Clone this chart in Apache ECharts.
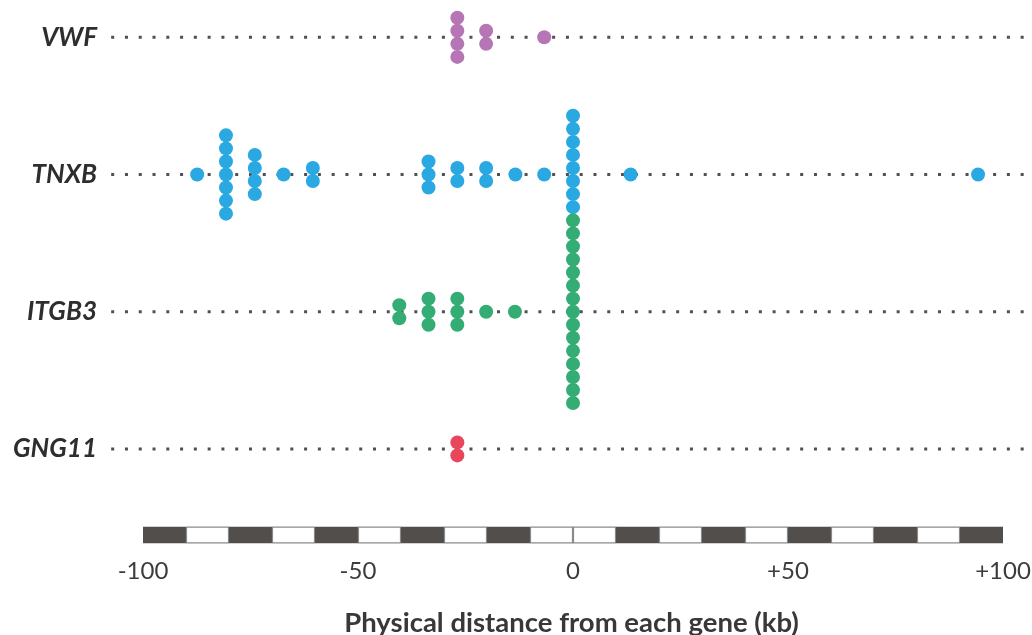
<!DOCTYPE html>
<html>
<head>
<meta charset="utf-8">
<script src="https://cdn.jsdelivr.net/npm/echarts@6/dist/echarts.min.js"></script>
<style>
html,body{margin:0;padding:0;background:#fff;}
#chart{width:1032px;height:635px;}
</style>
</head>
<body>
<div id="chart"></div>
<script>
// ---- data ----
const genes = ['VWF', 'TNXB', 'ITGB3', 'GNG11'];

const vwfPos = [-26.9, -20.2, -6.7];
const vwfCount = [4, 2, 1];

const tnxbPos = [-87.4, -80.7, -74.0, -67.3, -60.5, -33.6, -26.9, -20.2, -13.4, -6.7, 0, 13.4, 94.2];
const tnxbCount = [1, 7, 4, 1, 2, 3, 2, 2, 1, 1, 8, 1, 1];
const tnxbShift = [0, 0, 0, 0, 0, 0, 0, 0, 0, 0, -1, 0, 0]; // stack pushed up to clear ITGB3 stack

const itgb3Pos = [-40.4, -33.6, -26.9, -20.2, -13.5, 0];
const itgb3Count = [2, 3, 3, 1, 1, 15];

const gng11Pos = [-26.9];
const gng11Count = [2];

const xTicks = [-100, -50, 0, 50, 100];
const scaleStart = [-100, -90, -80, -70, -60, -50, -40, -30, -20, -10, 0, 10, 20, 30, 40, 50, 60, 70, 80, 90];
const scaleDark  = [1, 0, 1, 0, 1, 0, 1, 0, 1, 0, 0, 1, 0, 1, 0, 1, 0, 1, 0, 1];

// ---- styles / layout ----
const PX_PER_KB = 4.3;
const ZERO_PX = 573;
const X_MIN = -107.4;
const X_MAX = (1032 - ZERO_PX) / PX_PER_KB;
const GRID_LEFT = ZERO_PX + X_MIN * PX_PER_KB;
const ROW_PX = 137.2;
const ROW_TOP = 37.3;
const DOT_STEP = 13.05 / ROW_PX;   // vertical spacing of stacked dots, in row units
const colors = { VWF: '#b676b6', TNXB: '#2aa8e2', ITGB3: '#33ad74', GNG11: '#e8465b' };
const labelFont = 'Lato, "Open Sans", sans-serif';

function stack(row, pos, count, shift) {
  const out = [];
  pos.forEach((x, i) => {
    const n = count[i];
    const s = shift ? shift[i] : 0;
    for (let k = 0; k < n; k++) {
      out.push([x, row + (k - (n - 1) / 2 + s) * DOT_STEP]);
    }
  });
  return out;
}

const chart = echarts.init(document.getElementById('chart'), null, { renderer: 'canvas' });

const dotLines = genes.map((g, r) => ({
  type: 'line',
  data: [[X_MIN, r], [X_MAX, r]],
  symbol: 'none',
  clip: false,
  silent: true,
  z: 1,
  lineStyle: { color: '#505050', width: 3, type: [3, 10.78], cap: 'butt' }
}));

function dotSeries(name, row, pos, count, shift) {
  return {
    type: 'scatter',
    name: name,
    data: stack(row, pos, count, shift),
    symbol: 'circle',
    symbolSize: 14,
    clip: false,
    z: 3,
    itemStyle: { color: colors[name], opacity: 1 }
  };
}

const option = {
  animation: false,
  backgroundColor: '#ffffff',
  grid: {
    left: GRID_LEFT, right: 0, top: ROW_TOP, bottom: 635 - (ROW_TOP + 3 * ROW_PX),
    containLabel: false,
    outerBoundsMode: 'none'
  },
  xAxis: {
    type: 'value',
    min: X_MIN, max: X_MAX,
    axisLine: { show: false },
    axisTick: { show: false },
    splitLine: { show: false },
    axisLabel: {
      customValues: xTicks,
      showMinLabel: true,
      showMaxLabel: true,
      margin: 110,
      fontSize: 24,
      fontFamily: labelFont,
      color: '#3c3c3c',
      formatter: v => (v > 0 ? '+' + v : String(v))
    },
    name: 'Physical distance from each gene (kb)',
    nameLocation: 'middle',
    nameGap: 160,
    nameTextStyle: { fontSize: 27.5, fontWeight: 'bold', fontFamily: labelFont, color: '#383838' }
  },
  yAxis: {
    type: 'value',
    min: 0, max: 3, interval: 1,
    inverse: true,
    axisLine: { show: false },
    axisTick: { show: false },
    splitLine: { show: false },
    axisLabel: {
      margin: GRID_LEFT - 97,
      fontSize: 26,
      fontWeight: 'bold',
      fontStyle: 'italic',
      fontFamily: labelFont,
      color: '#2e2e2e',
      formatter: v => genes[v] || ''
    }
  },
  series: [
    ...dotLines,
    {
      type: 'custom',
      clip: false,
      silent: true,
      z: 2,
      data: scaleStart.map((s, i) => [s, scaleDark[i]]),
      renderItem: function (params, api) {
        const x0 = api.coord([api.value(0), 0])[0];
        const x1 = api.coord([api.value(0) + 10, 0])[0];
        const top = 526.7, h = 16.6;
        if (api.value(1) === 1) {
          return { type: 'rect', shape: { x: x0, y: top, width: x1 - x0, height: h },
                   style: { fill: '#524e4b' } };
        }
        return { type: 'rect', shape: { x: x0 + 0.5, y: top + 0.5, width: x1 - x0 - 1, height: h - 1 },
                 style: { fill: '#ffffff', stroke: '#8a8a8a', lineWidth: 1.2 } };
      }
    },
    dotSeries('VWF', 0, vwfPos, vwfCount),
    dotSeries('TNXB', 1, tnxbPos, tnxbCount, tnxbShift),
    dotSeries('ITGB3', 2, itgb3Pos, itgb3Count),
    dotSeries('GNG11', 3, gng11Pos, gng11Count)
  ]
};

chart.setOption(option);
</script>
</body>
</html>
